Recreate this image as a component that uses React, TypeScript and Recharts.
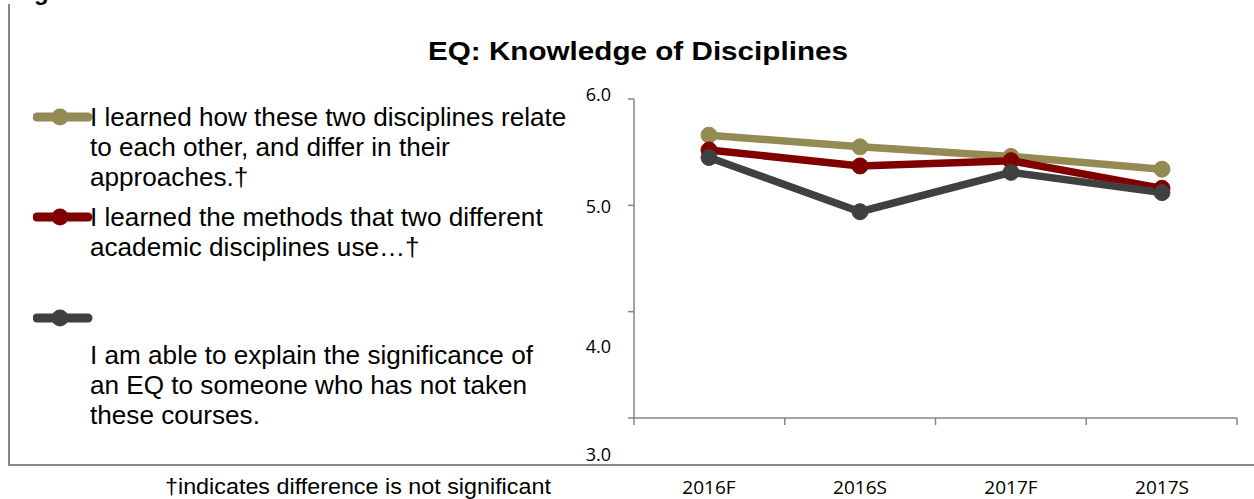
import React from 'react'
import { LineChart, Line, XAxis, YAxis, Legend } from 'recharts'

// survey terms and mean ratings (7-point scale) per item
const terms = ['2016F', '2016S', '2017F', '2017S']
const relateScores = [5.66, 5.55, 5.46, 5.34]
const methodsScores = [5.52, 5.37, 5.42, 5.16]
const explainScores = [5.45, 4.94, 5.31, 5.12]

const relateName = 'I learned how these two disciplines relate\nto each other, and differ in their\napproaches.†'
const methodsName = 'I learned the methods that two different\nacademic disciplines use…†'
const explainName = 'I am able to explain the significance of\nan EQ to someone who has not taken\nthese courses.'

const seriesOrder = ['relate', 'methods', 'explain']
const yTicks = [3, 4, 5, 6]
const slotEdges = [0, 1, 2, 3, 4]

const TAN = '#948A54'
const MAROON = '#800000'
const CHARCOAL = '#404040'
const AXIS = '#868686'

const rows = terms.map((term, i) => ({
  term,
  slot: i + 0.5,
  relate: relateScores[i],
  methods: methodsScores[i],
  explain: explainScores[i],
}))

// excel put the lower two value labels well under their gridline
const yLabelShift: Record<number, number> = { 6: -4, 5: 1, 4: 35, 3: 37 }

const labelFont = '"Open Sans", "DejaVu Sans", sans-serif'
const textFont = '"Liberation Sans", Arial, sans-serif'

function ValueTick({ x, y, payload }: any) {
  return (
    <text x={x} y={y + (yLabelShift[payload.value] ?? 0)} dy="0.35em" textAnchor="end"
      fontFamily={labelFont} fontSize={18} fill="#000">
      {payload.value.toFixed(1)}
    </text>
  )
}

function TermTick({ x, y, payload }: any) {
  return (
    <text x={x} y={y + 61} dy="0.35em" textAnchor="middle" fontFamily={labelFont} fontSize={19} fill="#000">
      {payload.value}
    </text>
  )
}

// the edge axis only carries tick marks between the terms
const NoLabel = () => <g />

// spacing between legend rows, and how far the text drops below its marker
const legendGap = [0, 10, 41]
const legendDrop = [0, 0, 37]

function LegendList({ payload }: any) {
  return (
    <div style={{ fontFamily: textFont, fontSize: 25, lineHeight: '30px', color: '#000' }}>
      {(payload || []).map((entry: any, i: number) => (
        <div key={entry.dataKey} style={{ position: 'relative', marginTop: legendGap[i], paddingLeft: 90 }}>
          <svg width={60} height={20} style={{ position: 'absolute', left: 33, top: 5 }}>
            <line x1={4} y1={10} x2={55} y2={10} stroke={entry.color} strokeWidth={9} strokeLinecap="round" />
            <circle cx={27} cy={10} r={8.5} fill={entry.color} />
          </svg>
          <div style={{
            paddingTop: legendDrop[i], whiteSpace: 'pre-line', transform: 'scaleX(1.045)',
            transformOrigin: 'left', width: 480,
          }}>
            {entry.value}
          </div>
        </div>
      ))}
    </div>
  )
}

export default function App() {
  return (
    <div style={{ position: 'fixed', left: 0, top: 0, width: 1254, height: 499, background: '#fff', overflow: 'hidden' }}>
      <div style={{
        position: 'absolute', left: 8, top: 4, width: 1246, height: 460,
        borderLeft: `2px solid ${AXIS}`, borderBottom: `2px solid ${AXIS}`,
      }} />
      <div style={{ position: 'absolute', left: 34, top: -22, fontFamily: textFont, fontWeight: 'bold', fontSize: 24 }}>g</div>
      <div style={{
        position: 'absolute', left: 638, top: 36, transform: 'translateX(-50%) scaleX(1.14)',
        fontFamily: textFont, fontWeight: 'bold', fontSize: 26, whiteSpace: 'nowrap', color: '#000',
      }}>
        EQ: Knowledge of Disciplines
      </div>
      <div style={{
        position: 'absolute', left: 165, top: 474, transform: 'scaleX(1.06)', transformOrigin: 'left',
        fontFamily: textFont, fontSize: 22, whiteSpace: 'nowrap', color: '#000',
      }}>
        †indicates difference is not significant
      </div>
      <div style={{ position: 'absolute', left: 0, top: 0 }}>
        <LineChart width={1254} height={499} data={rows} margin={{ top: 99, right: 17, bottom: 33, left: 574 }}>
          <XAxis xAxisId="edges" type="number" dataKey="slot" domain={[0, 4]} ticks={slotEdges} allowDataOverflow
            height={8} tick={NoLabel} tickSize={7} stroke={AXIS} strokeWidth={1.5} />
          <XAxis xAxisId="terms" dataKey="term" height={40} padding={{ left: 75, right: 75 }}
            axisLine={false} tickLine={false} tickSize={0} tickMargin={0} tick={<TermTick />} interval={0} />
          <YAxis domain={[3, 6]} ticks={yTicks} width={60} tickSize={6} tickMargin={17}
            stroke={AXIS} strokeWidth={1.5} tick={<ValueTick />} />
          <Legend layout="vertical" align="center" verticalAlign="middle" content={<LegendList />}
            itemSorter={(item: any) => seriesOrder.indexOf(item.dataKey)}
            wrapperStyle={{ left: 0, top: 102, width: 600 }} />
          <Line xAxisId="terms" dataKey="relate" name={relateName} stroke={TAN} strokeWidth={7.5}
            dot={{ r: 8, fill: TAN, stroke: TAN, strokeWidth: 1 }} isAnimationActive={false} />
          <Line xAxisId="terms" dataKey="methods" name={methodsName} stroke={MAROON} strokeWidth={7.5}
            dot={{ r: 8, fill: MAROON, stroke: MAROON, strokeWidth: 1 }} isAnimationActive={false} />
          <Line xAxisId="terms" dataKey="explain" name={explainName} stroke={CHARCOAL} strokeWidth={7.5}
            dot={{ r: 8, fill: CHARCOAL, stroke: CHARCOAL, strokeWidth: 1 }} isAnimationActive={false} />
        </LineChart>
      </div>
    </div>
  )
}
